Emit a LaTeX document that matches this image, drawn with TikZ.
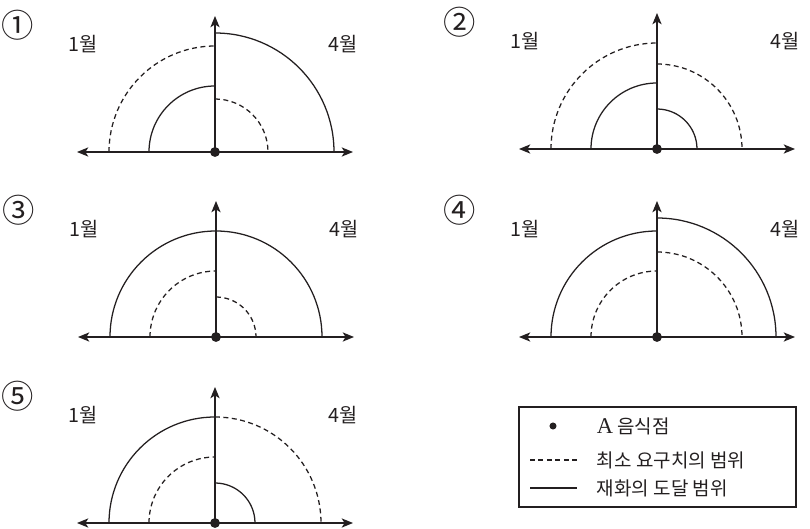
\documentclass[tikz,border=0pt]{standalone}
\usepackage{fontspec}
\setmainfont{Liberation Serif}
\newfontfamily\krfont{Noto Sans CJK KR}
\usetikzlibrary{arrows.meta, positioning, calc}
\definecolor{inkline}{HTML}{231F20}
\tikzset{
  axisline/.style={-{Stealth[length=8pt, width=6.5pt, inset=2pt]}, inkline, line width=1pt},
  minreq/.style={inkline, line width=0.9pt, dash pattern=on 3.5pt off 2.5pt},
  reach/.style={inkline, line width=0.9pt},
  shop/.style={circle, fill=inkline, inner sep=0pt, minimum size=7pt},
  month/.style={text=inkline, font=\krfont\fontsize{14pt}{16pt}\selectfont},
  choice/.style={text=inkline, font=\krfont\fontsize{23pt}{25pt}\selectfont},
  legtext/.style={anchor=west, text=inkline, font=\krfont\fontsize{13.5pt}{16pt}\selectfont},
}
% #1 name, #2 centre, #3 number, #4/#5 left dashed/solid, #6/#7 right dashed/solid
\newcommand{\rangepanel}[7]{%
  \coordinate (#1c) at (#2);
  \coordinate (#1w) at ($(#1c)+(-138,0)$);
  \coordinate (#1e) at ($(#1c)+(138,0)$);
  \coordinate (#1n) at ($(#1c)+(0,136)$);
  \draw[minreq] ($(#1c)+(-#4,0)$) arc[start angle=180, end angle=90, radius=#4];
  \draw[reach] ($(#1c)+(-#5,0)$) arc[start angle=180, end angle=90, radius=#5];
  \draw[minreq] ($(#1c)+(0,#6)$) arc[start angle=90, end angle=0, radius=#6];
  \draw[reach] ($(#1c)+(0,#7)$) arc[start angle=90, end angle=0, radius=#7];
  \draw[axisline] (#1c) -- (#1w);
  \draw[axisline] (#1c) -- (#1e);
  \draw[axisline] (#1c) -- (#1n);
  \node[shop] (#1o) at (#1c) {};
  \node[month] (#1jan) at ($(#1c)+(-132,108)$) {1월};
  \node[month] (#1apr) at ($(#1c)+(128,108)$) {4월};
  \node[choice] (#1num) at ($(#1c)+(-197,127)$) {#3};}

\begin{document}
\begin{tikzpicture}[x=0.025cm, y=0.025cm]
  \useasboundingbox (0,0) rectangle (810,528);
  \rangepanel{p1}{215,376}{①}{106}{66}{53}{119}
  \rangepanel{p2}{657,379}{②}{106}{66}{85}{40}
  \rangepanel{p3}{216,191}{③}{66}{106}{40}{106}
  \rangepanel{p4}{657,191}{④}{66}{106}{85}{119}
  \rangepanel{p5}{215,5}{⑤}{66}{106}{106}{40}
  % legend
  \draw[reach] (519,21) rectangle (796,121);
  \node[shop, minimum size=5pt] (legdot) at (553,102) {};
  \coordinate (legdash0) at (530,68);
  \coordinate (legdash1) at (577,68);
  \coordinate (legline0) at (530,40);
  \coordinate (legline1) at (577,40);
  \draw[minreq] (legdash0) -- (legdash1);
  \draw[reach] (legline0) -- (legline1);
  \node[legtext] (legshop) at (592,102) {{\rmfamily\fontsize{16pt}{18pt}\selectfont A} 음식점};
  \node[legtext] (legmin) at (592,68) {최소 요구치의 범위};
  \node[legtext] (legreach) at (592,40) {재화의 도달 범위};
\end{tikzpicture}
\end{document}
